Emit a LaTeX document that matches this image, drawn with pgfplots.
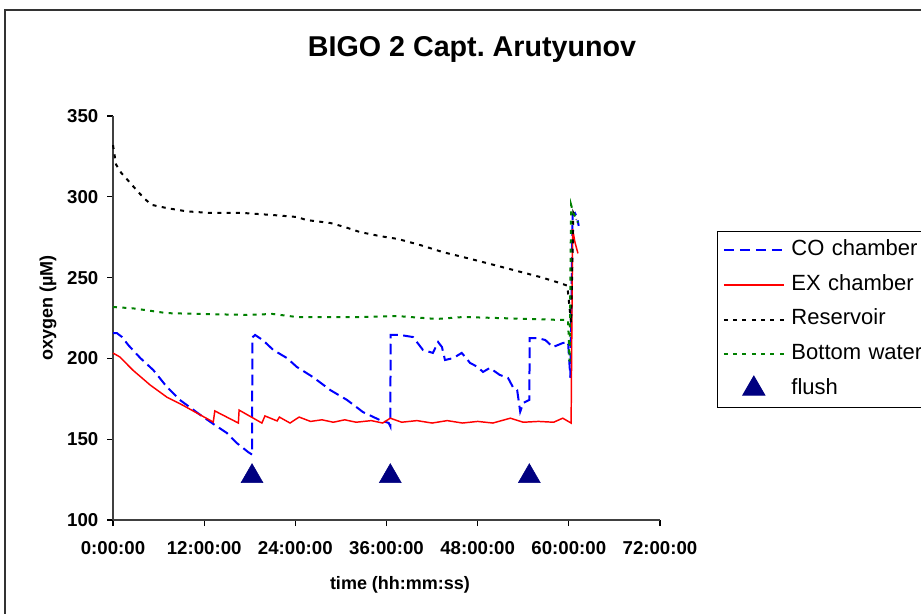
\documentclass[border=0pt]{standalone}
\usepackage{pgfplots}
\pgfplotsset{compat=1.18}
\usepackage{fontspec}
\setmainfont{Liberation Sans}
\frenchspacing
\definecolor{navy}{RGB}{0,0,128}
\definecolor{dgreen}{RGB}{0,128,0}
\begin{document}
\begin{tikzpicture}
\useasboundingbox (0,0) rectangle (690.75pt,460.5pt);
\clip (0,0) rectangle (690.75pt,460.5pt);
\draw[black!80, line width=1.1pt] (3.75pt,-20pt) rectangle (720pt,453pt);
\node[font=\fontsize{21.5}{24}\selectfont\bfseries] at (354pt,423.5pt) {BIGO 2 Capt. Arutyunov};
\begin{axis}[
  at={(84.75pt,70.5pt)}, anchor=south west,
  scale only axis, width=410.25pt, height=303pt,
  xmin=0, xmax=72, ymin=100, ymax=350,
  axis lines*=left,
  axis line style={black!75, line width=0.8pt},
  tick align=outside, major tick length=4.5pt,
  tick style={black, line width=0.8pt},
  xtick={0,12,...,72},
  xticklabels={0:00:00,12:00:00,24:00:00,36:00:00,48:00:00,60:00:00,72:00:00},
  ytick={100,150,...,350},
  /pgf/number format/assume math mode=true,
  tick label style={font=\fontsize{14}{16}\selectfont\bfseries},
  xticklabel style={yshift=-8pt},
  yticklabel style={xshift=-3pt},
  xlabel={time (hh:mm:ss)},
  ylabel={oxygen (µM)},
  label style={font=\fontsize{13.5}{15}\selectfont\bfseries},
  xlabel style={at={(axis description cs:0.5247,-0.16)}, anchor=center},
  ylabel style={at={(axis description cs:-0.1188,0.525)}, anchor=center},
  legend image code/.code={\draw[mark repeat=2,mark phase=2,#1] plot coordinates {(0pt,0pt) (22.5pt,0pt) (45pt,0pt)};},
  legend style={at={(axis description cs:1.1042,0.7153)}, anchor=north west,
    draw=black, line width=0.75pt, font=\fontsize{16.5}{18}\selectfont,
    inner xsep=4pt, inner ysep=4pt, row sep=6pt,
    /tikz/every odd column/.append style={column sep=3pt},
    nodes={inner ysep=2pt, text height=12pt, text depth=4pt, text width=130pt}},
  legend cell align=left,
  clip=false,
]
\addplot[blue, line width=1.5pt, dash pattern=on 8pt off 4pt] coordinates {
(0,215.7) (0.5,215.7) (1.2,213.2) (2.0,208.3) (3.6,200.2) (5.3,192.8) (7.1,182.3) (8.8,174.3) (11.5,165.0) (13.4,158.8) (15.0,153.8) (16.3,147.6) (17.8,142.0) (18.3,140.5)
(18.35,213) (18.7,214.5) (19.7,211.4) (21.1,205.2) (22.9,200.2) (24.2,194.7) (26.3,188.5) (28.6,180.4) (30.8,174.3) (32.9,166.8) (35.1,161.9) (36.3,160) (36.5,158)
(36.55,214.5) (37.8,214.5) (39.5,213.2) (40.8,205.2) (42.1,203.4) (42.8,210.1) (43.3,207) (43.7,199) (44.8,200.2) (45.9,203.4) (47.0,197.2) (48.0,194.7) (48.7,191.6) (49.6,194.1) (50.9,189.8) (52.0,187.9) (52.7,181.7) (53.2,180.4) (53.6,167) (54.0,172.4) (54.8,174.3)
(54.85,212.6) (55.8,212.6) (56.9,211.4) (57.9,207) (59.2,209.5) (59.9,210.1) (60.2,188) (60.5,289) (60.8,290) (61.1,287) (61.3,282)
};
\addlegendentry{CO chamber}
\addplot[red, line width=1.1pt] coordinates {
(0,203.3) (0.9,200.9) (2.6,192.8) (4.9,183.5) (7.1,176) (9.2,171) (11.5,165) (13.2,160.6) (13.4,167.5) (16.5,160) (16.6,168) (19.6,160) (20.0,164.4) (21.6,161.3) (21.9,163.7) (23.3,160) (24.5,163.7)
(26,161) (27.5,162) (29,160.5) (30.5,162) (32,160.5) (34,161.5) (35.5,160) (36.5,163) (38,160.5) (40,161.5) (42,160) (44,161.5) (46,160) (48,161) (50,160) (52.3,163) (54,160.5) (56,161) (58,160.5) (59.2,163) (60.3,160) (60.5,280) (60.8,272) (61.2,265)
};
\addlegendentry{EX chamber}
\addplot[black, line width=1.5pt, dash pattern=on 3pt off 4pt] coordinates {
(0,332) (0.2,326) (0.4,320) (1.05,315) (2.0,310) (3.2,303.6) (4.2,298.6) (5.1,295) (7.1,293) (9.7,291) (12.8,290) (17.1,290) (21.1,288.7) (24.2,287.5) (25.5,285.6) (28.6,283.8) (30.5,281.3) (32.5,278.2) (35.1,275.7) (37.5,273.9) (40.4,270.2) (43.4,265.8) (46.6,262.1) (49.2,259) (52.7,254.7) (56.2,250.4) (58.8,246.7) (59.8,245) (60.3,222) (60.6,290) (61.0,286)
};
\addlegendentry{Reservoir}
\addplot[dgreen, line width=1.5pt, dash pattern=on 3pt off 4pt] coordinates {
(0,231.8) (2.6,231) (7.1,228) (11.5,227.5) (17.6,226.9) (21,227.5) (24.2,225.6) (26.3,225.6) (32.9,225.6) (37.4,226.2) (42.6,224.4) (46.1,225.6) (50.5,225) (54.9,224.4) (58.8,223.8) (59.9,223.8) (60.1,198) (60.3,295) (60.6,290) (61.2,284)
};
\addlegendentry{Bottom water}
\addplot[only marks, mark=triangle*, mark size=9.5pt, color=navy] coordinates {
(18.3,127) (36.5,127) (54.8,127)
};
\addlegendentry{flush}
\end{axis}
\end{tikzpicture}
\end{document}
